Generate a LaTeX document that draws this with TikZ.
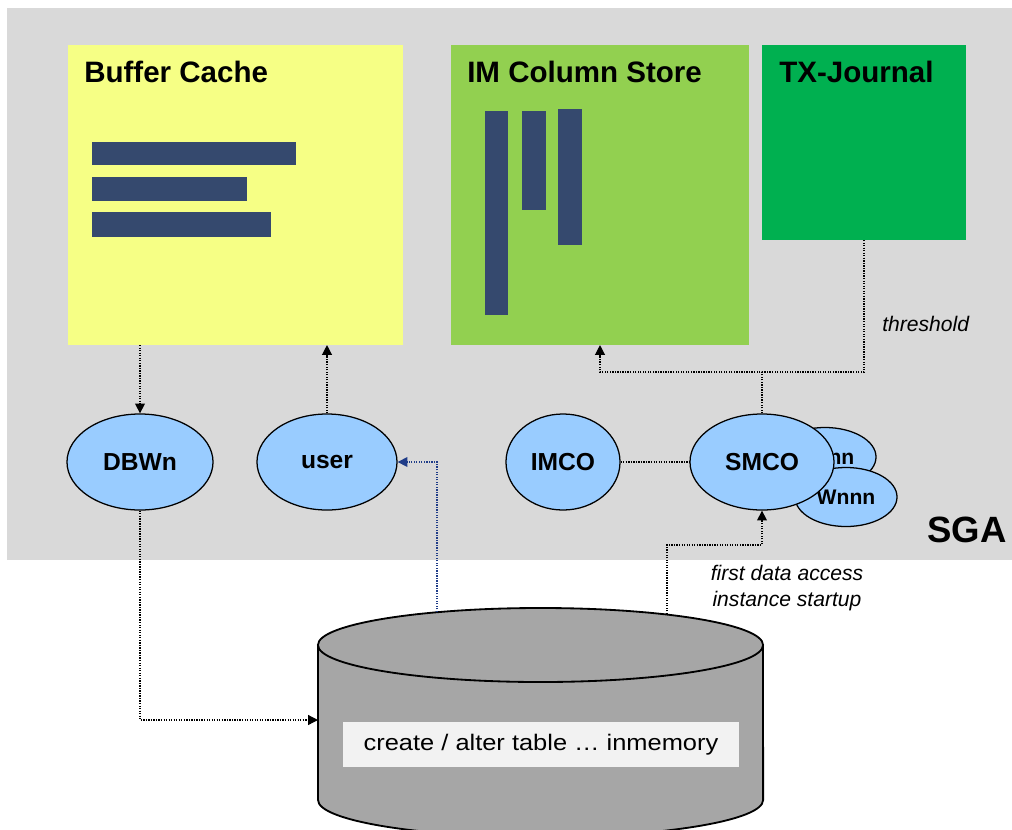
\documentclass[tikz,border=0pt]{standalone}
\usepackage{fontspec}
\setmainfont{Liberation Sans}
\usepackage{xcolor}
\usepackage{graphicx}
\usepackage{tikz}
\usetikzlibrary{shapes.geometric,arrows.meta}

\definecolor{sgagray}{HTML}{D9D9D9}
\definecolor{cacheyellow}{HTML}{F6FF85}
\definecolor{imgreen}{HTML}{92D050}
\definecolor{txgreen}{HTML}{00B050}
\definecolor{bardark}{HTML}{35496E}
\definecolor{procblue}{HTML}{99CCFF}
\definecolor{diskgray}{HTML}{A6A6A6}
\definecolor{navyline}{HTML}{1F3C88}

\begin{document}
\begin{tikzpicture}[x=0.025cm, y=-0.025cm,
      pool/.style={draw=none, inner sep=0pt, outer sep=0pt},
      title/.style={anchor=base west, inner sep=0pt, font=\fontsize{21}{24}\selectfont\bfseries},
      proc/.style={draw, line width=0.9pt, fill=procblue, ellipse, inner sep=0pt,
        minimum width=3.65cm, minimum height=2.4cm, font=\fontsize{17.5}{20}\selectfont\bfseries},
      worker/.style={proc, minimum width=2.55cm, minimum height=1.475cm, font=\fontsize{15}{18}\selectfont\bfseries},
      link/.style={line width=0.9pt, dash pattern=on 0.9pt off 0.9pt},
      flow/.style={link, -{Triangle[length=7pt,width=7pt]}},
      note/.style={font=\fontsize{15}{18.5}\selectfont\itshape, inner sep=0pt, align=center}]
    \useasboundingbox (0,0) rectangle (1012,829);
    \fill[sgagray] (7,8) rectangle (1012,560);

    \node[pool, fill=cacheyellow, minimum width=8.375cm, minimum height=7.5cm] (bc) at (235.5,195) {};
    \node[pool, fill=imgreen, minimum width=7.45cm, minimum height=7.5cm] (imcs) at (600,195) {};
    \node[pool, fill=txgreen, minimum width=5.1cm, minimum height=4.875cm] (tx) at (864,142.5) {};
    \node[title] at (84,82) {Buffer Cache};
    \node[title] at (467,82) {IM Column Store};
    \node[title] at (779,82) {TX-Journal};

    \fill[bardark] (92,142) rectangle (296,165);
    \fill[bardark] (92,177) rectangle (247,201);
    \fill[bardark] (92,212) rectangle (271,237);
    \fill[bardark] (485,111) rectangle (508,315);
    \fill[bardark] (522,111) rectangle (546,210);
    \fill[bardark] (558,109) rectangle (582,245);

    \node[proc] (dbwn) at (140,462) {DBWn};
    \node[proc, minimum width=3.5cm] (user) at (327,462) {user};
    \node[proc, minimum width=2.85cm] (imco) at (563,462) {IMCO};
    \node[worker] (wa) at (825,457) {Wnnn};
    \node[worker] (wb) at (846,497) {Wnnn};
    \node[proc, minimum width=3.6cm] (smco) at (762,462) {SMCO};
    \node[anchor=base west, inner sep=0pt, font=\fontsize{26}{30}\selectfont\bfseries] (sga) at (927,542) {SGA};

    % disk
    \fill[diskgray] (318,645) -- (318,800) arc[start angle=180, end angle=360, x radius=5.5625cm, y radius=0.925cm]
      -- (763,645) -- cycle;
    \draw[line width=1.3pt] (318,645) -- (318,800) arc[start angle=180, end angle=360, x radius=5.5625cm, y radius=0.925cm]
      -- (763,645);
    \draw[line width=1.3pt, fill=diskgray] (540.5,645) ellipse[x radius=5.5625cm, y radius=0.925cm];
    \node[fill=black!5, minimum width=9.9cm, minimum height=1.125cm, inner sep=0pt,
      font=\fontsize{16}{19}\selectfont] (ddl) at (541,744.5) {\scalebox{1.13}[1]{create / alter table \dots\ inmemory}};
    \coordinate (dbin) at (318,720);
    \coordinate (dbuser) at (437,612);
    \coordinate (dbsmco) at (667,614);

    \coordinate (join) at (762,372);
    \coordinate (start) at (762,545);

    \draw[flow] (dbwn.north |- bc.south) -- (dbwn.north);
    \draw[flow] (user.north) -- (user.north |- bc.south);
    \draw[flow] (smco.north) -- (join) -| (imcs.south);
    \draw[link] (tx.south) |- (join);
    \draw[link] (imco) -- (smco);
    \draw[flow] (dbwn.south) |- (dbin);
    \draw[flow, navyline] (dbuser) |- (user.east);
    \draw[flow] (dbsmco) |- (start) -- (smco.south);

    \node[note, anchor=base west] (thr) at (882,331) {threshold};
    \node[note, anchor=north] (why) at (787,565) {first data access\\instance startup};
  \end{tikzpicture}
\end{document}
